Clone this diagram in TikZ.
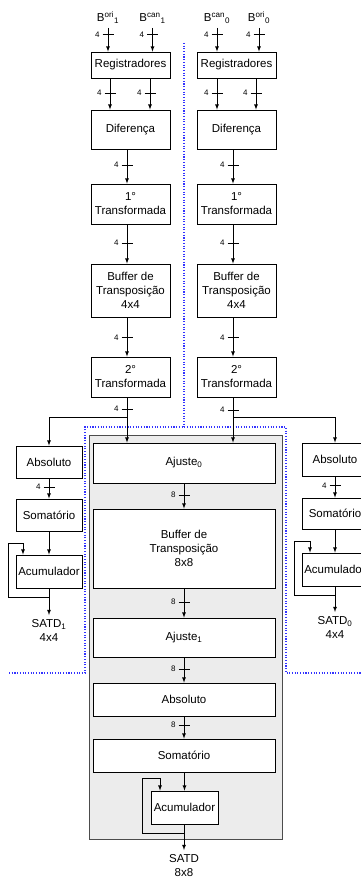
\documentclass[tikz,border=0pt]{standalone}
\usepackage{fontspec}
\setmainfont{Liberation Sans}
\usetikzlibrary{positioning}
\usetikzlibrary{calc}
\usetikzlibrary{decorations.markings}

\definecolor{partblue}{RGB}{51,51,255}
\definecolor{shade}{RGB}{236,236,236}

\tikzset{
  blk/.style={draw, fill=white, align=center, inner sep=0pt, font=\fontsize{11.5}{14}\selectfont},
  colblk/.style={blk, minimum width=79pt, minimum height=#1},
  wideblk/.style={blk, minimum width=182pt, minimum height=#1},
  smallblk/.style={blk, minimum width=66pt, minimum height=#1},
  lbl/.style={align=center, inner sep=0pt, font=\fontsize{11.5}{14}\selectfont},
  part/.style={partblue, line width=1.1pt, dash pattern=on 1.1pt off 1.6pt},
  bus/.style 2 args={postaction={decorate,decoration={markings,
      mark=at position #2 with {\draw[-] (0,-5.5) -- (0,5.5);
        \node[anchor=east, inner sep=1pt, font=\fontsize{8}{9}\selectfont] at (0,-7) {#1};}}}}
}

\begin{document}
\begin{tikzpicture}[>=latex, x=1pt, y=1pt, line width=0.8pt]
    \useasboundingbox (0,0) rectangle (361,-880);

    % the shaded block of the 8x8 path
    \draw[fill=shade, draw=gray!60!black] (89,-435) rectangle (282,-839);

    % the dotted partition
    \draw[part] (9,-673) -- (85,-673) -- (85,-427) -- (286,-427) -- (286,-673) -- (361,-673);
    \draw[part] (184,-43) -- (184,-427);

    % the left 4x4 column
    \node[lbl, anchor=south, inner ysep=4pt] (boriL) at (108,-28) {B\textsuperscript{ori}\textsubscript{1}};
    \node[lbl, anchor=south, inner ysep=4pt] (bcanL) at (152.5,-28) {B\textsuperscript{can}\textsubscript{1}};
    \node[colblk=26pt] (regL) at (130.5,-65) {Registradores};
    \node[colblk=39pt] (difL) at (130.5,-129.5) {Diferença};
    \node[colblk=40pt] (tr1L) at (130.5,-204) {1°\\Transformada};
    \node[colblk=53pt] (bufL) at (130.5,-290.5) {Buffer de\\Transposição\\4x4};
    \node[colblk=40pt] (tr2L) at (130.5,-377) {2°\\Transformada};

    % the right 4x4 column
    \node[lbl, anchor=south, inner ysep=4pt] (bcanR) at (217,-28) {B\textsuperscript{can}\textsubscript{0}};
    \node[lbl, anchor=south, inner ysep=4pt] (boriR) at (259,-28) {B\textsuperscript{ori}\textsubscript{0}};
    \node[colblk=26pt] (regR) at (236.5,-65) {Registradores};
    \node[colblk=39pt] (difR) at (236.5,-129.5) {Diferença};
    \node[colblk=40pt] (tr1R) at (236.5,-204) {1°\\Transformada};
    \node[colblk=53pt] (bufR) at (236.5,-290.5) {Buffer de\\Transposição\\4x4};
    \node[colblk=40pt] (tr2R) at (236.5,-377) {2°\\Transformada};

    % the SATD 4x4 blocks on the sides
    \node[smallblk=32pt] (absL) at (49,-462) {Absoluto};
    \node[smallblk=32pt] (somL) at (49,-515) {Somatório};
    \node[smallblk=33pt] (acuL) at (49,-571.5) {Acumulador};
    \node[lbl, anchor=north, inner ysep=4pt] (satdL) at (49,-615) {SATD\textsubscript{1}\\4x4};

    \node[smallblk=33pt] (absR) at (335,-459.5) {Absoluto};
    \node[smallblk=31pt] (somR) at (335,-513.5) {Somatório};
    \node[smallblk=33pt] (acuR) at (335,-569.5) {Acumulador};
    \node[lbl, anchor=north, inner ysep=4pt] (satdR) at (335,-612) {SATD\textsubscript{0}\\4x4};

    % the 8x8 column
    \node[wideblk=40pt] (ajuste0) at (184,-463) {Ajuste\textsubscript{0}};
    \node[wideblk=79pt] (buf8) at (184,-548.5) {Buffer de\\Transposição\\8x8};
    \node[wideblk=39pt] (ajuste1) at (184,-637.5) {Ajuste\textsubscript{1}};
    \node[wideblk=33pt] (abs8) at (184,-699.5) {Absoluto};
    \node[wideblk=33pt] (som8) at (184,-755.5) {Somatório};
    \node[smallblk=33pt, minimum width=67pt] (acu8) at (184.5,-807.5) {Acumulador};
    \node[lbl, anchor=north, inner ysep=4pt] (satd8) at (184,-850) {SATD\\8x8};

    % the arrows and bus widths, left column
    \draw [->, bus={4}{0.29}](boriL) to (boriL |- regL.north);
    \draw [->, bus={4}{0.29}](bcanL) to (bcanL |- regL.north);
    \draw [->, bus={4}{0.47}]([xshift=-20.5pt]regL.south) to ([xshift=-20.5pt]difL.north);
    \draw [->, bus={4}{0.47}]([xshift=19.5pt]regL.south) to ([xshift=19.5pt]difL.north);
    \draw [->, bus={4}{0.46}]([xshift=-3.5pt]difL.south) to ([xshift=-3.5pt]tr1L.north);
    \draw [->, bus={4}{0.48}]([xshift=-3.5pt]tr1L.south) to ([xshift=-3.5pt]bufL.north);
    \draw [->, bus={4}{0.52}]([xshift=-3.5pt]bufL.south) to ([xshift=-3.5pt]tr2L.north);
    \coordinate (splitL) at (127,-417);
    \draw [->, bus={4}{0.26}]([xshift=-3.5pt]tr2L.south) to (ajuste0.north -| splitL);
    \draw [->](splitL) -| (absL.north);

    % right column
    \draw [->, bus={4}{0.29}](bcanR) to (bcanR |- regR.north);
    \draw [->, bus={4}{0.29}](boriR) to (boriR |- regR.north);
    \draw [->, bus={4}{0.47}]([xshift=-19.5pt]regR.south) to ([xshift=-19.5pt]difR.north);
    \draw [->, bus={4}{0.47}]([xshift=19.5pt]regR.south) to ([xshift=19.5pt]difR.north);
    \draw [->, bus={4}{0.46}]([xshift=-3.5pt]difR.south) to ([xshift=-3.5pt]tr1R.north);
    \draw [->, bus={4}{0.48}]([xshift=-3.5pt]tr1R.south) to ([xshift=-3.5pt]bufR.north);
    \draw [->, bus={4}{0.52}]([xshift=-3.5pt]bufR.south) to ([xshift=-3.5pt]tr2R.north);
    \coordinate (splitR) at (233,-417);
    \draw [->, bus={4}{0.28}]([xshift=-3.5pt]tr2R.south) to (ajuste0.north -| splitR);
    \draw [->](splitR) -| (absR.north);

    % side accumulators
    \draw [->, bus={4}{0.43}](absL) to (somL);
    \draw [->](somL) to (acuL);
    \draw [->](acuL) to (satdL);
    \coordinate (fbL) at (49,-597);
    \draw [->](fbL) -| ++(-41,54) -| ([xshift=-26pt]acuL.north);

    \draw [->, bus={4}{0.43}](absR) to (somR);
    \draw [->](somR) to (acuR);
    \draw [->](acuR) to (satdR);
    \coordinate (fbR) at (335,-595);
    \draw [->](fbR) -| ++(-41,54) -| ([xshift=-25pt]acuR.north);

    % 8x8 column
    \draw [->, bus={8}{0.46}](ajuste0) to (buf8);
    \draw [->, bus={8}{0.47}](buf8) to (ajuste1);
    \draw [->, bus={8}{0.46}](ajuste1) to (abs8);
    \draw [->, bus={8}{0.39}](abs8) to (som8);
    \draw [->](som8.south -| acu8) to (acu8);
    \draw [->](acu8.south -| satd8) to (satd8);
    \coordinate (fb8) at (184,-833);
    \draw [->](fb8) -| ++(-42,55) -| ([xshift=-24.5pt]acu8.north);
\end{tikzpicture}
\end{document}
